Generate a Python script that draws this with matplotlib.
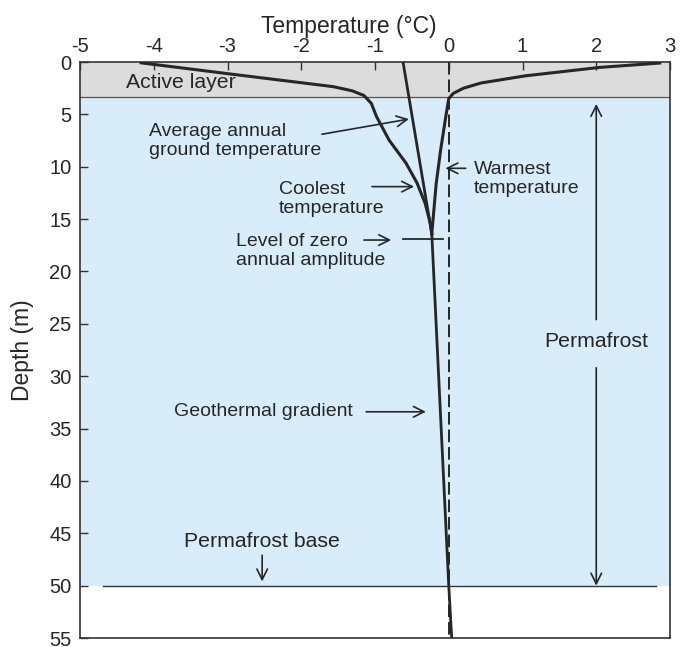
# Permafrost ground temperature profile (trumpet curve) redrawn with matplotlib
import numpy as np
import matplotlib.pyplot as plt

plt.rcParams['font.family'] = ['Liberation Sans', 'DejaVu Sans']

# axis ticks
temp_ticks = [-5, -4, -3, -2, -1, 0, 1, 2, 3]
temp_tick_labels = ['-5', '-4', '-3', '-2', '-1', '0', '1', '2', '3']
depth_ticks = [0, 5, 10, 15, 20, 25, 30, 35, 40, 45, 50, 55]

# coolest temperature envelope (deg C vs depth m)
coolest_temp = [-4.17, -2.90, -1.57, -1.31, -1.15, -1.05, -0.98, -0.81, -0.58, -0.43, -0.32, -0.25, -0.23]
coolest_depth = [0.08, 1.2, 2.35, 2.75, 3.2, 3.95, 5.2, 7.45, 9.65, 11.55, 13.5, 15.4, 16.4]

# warmest temperature envelope
warmest_temp = [2.86, 2.04, 1.04, 0.44, 0.20, 0.06, 0.0, -0.04, -0.11, -0.17, -0.21, -0.23]
warmest_depth = [0.1, 0.52, 1.32, 2.0, 2.5, 3.0, 3.5, 5.2, 8.4, 11.6, 14.8, 16.4]

# mean annual ground temperature, then geothermal gradient below
mean_temp = [-0.62, -0.23, 0.0, 0.04]
mean_depth = [0, 16.4, 50, 55]

active_layer_base = 3.3
zero_amplitude_depth = 16.9
permafrost_base = 50

ink = '#262626'
fig = plt.figure(figsize=(6.91, 6.47), dpi=100)
ax = fig.add_axes([80 / 691, 1 - 638 / 647, 590 / 691, 576 / 647])

# shaded layers
ax.axhspan(0, active_layer_base, color='#dcdcdc', lw=0, zorder=0)
ax.axhspan(active_layer_base, permafrost_base, color='#d8ecfa', lw=0, zorder=0)
ax.axhline(active_layer_base, color='#555555', lw=0.9, zorder=1)

# profiles
ax.plot([0, 0], [0, 55], color=ink, lw=1.4, ls=(0, (6.5, 2.5)), zorder=2)
ax.plot(coolest_temp, coolest_depth, color=ink, lw=2.2, solid_joinstyle='round', zorder=3)
ax.plot(warmest_temp, warmest_depth, color=ink, lw=2.2, solid_joinstyle='round', zorder=3)
ax.plot(mean_temp, mean_depth, color=ink, lw=2.0, zorder=3)
ax.plot([-0.62, -0.08], [zero_amplitude_depth, zero_amplitude_depth], color=ink, lw=1.3, zorder=3)
ax.plot([-4.69, 2.81], [permafrost_base, permafrost_base], color='#333333', lw=1.0, zorder=3)

arrow = dict(arrowstyle='->', lw=1.2, color=ink, mutation_scale=19, shrinkA=0, shrinkB=0)
fs = 14
fs_big = 15.3

def note(head, tail):
    ax.annotate('', xy=head, xytext=tail, arrowprops=arrow)

ax.text(-4.38, 1.95, 'Active layer', fontsize=fs_big, color=ink, va='center')

ax.text(-4.07, 7.55, 'Average annual\nground temperature', fontsize=fs, color=ink,
        va='center', linespacing=1.15)
note((-0.54, 5.45), (-1.72, 6.9))

ax.text(-2.30, 13.1, 'Coolest\ntemperature', fontsize=fs, color=ink, va='center', linespacing=1.15)
note((-0.47, 11.9), (-1.04, 11.9))

ax.text(-2.88, 18.05, 'Level of zero\nannual amplitude', fontsize=fs, color=ink,
        va='center', linespacing=1.15)
note((-0.78, 17.0), (-1.15, 17.0))

ax.text(0.34, 11.2, 'Warmest\ntemperature', fontsize=fs, color=ink, va='center', linespacing=1.15)
note((-0.045, 10.15), (0.23, 10.15))

ax.text(-1.30, 33.4, 'Geothermal gradient', fontsize=fs, color=ink, va='center', ha='right')
note((-0.31, 33.4), (-1.12, 33.4))

ax.text(2.0, 26.7, 'Permafrost', fontsize=fs_big, color=ink, va='center', ha='center')
note((2.0, 4.0), (2.0, 24.6))
note((2.0, 50.0), (2.0, 29.2))

ax.text(-2.53, 45.8, 'Permafrost base', fontsize=fs_big, color=ink, va='center', ha='center')
note((-2.53, 49.6), (-2.53, 47.1))

# axes
ax.set_xlim(-5, 3)
ax.set_ylim(55, 0)
ax.xaxis.tick_top()
ax.xaxis.set_label_position('top')
ax.set_xticks(temp_ticks)
ax.set_xticklabels(temp_tick_labels)
ax.set_yticks(depth_ticks)
ax.tick_params(direction='in', length=6, width=1.0, labelsize=14.5, colors='#333333', labelcolor=ink)
ax.tick_params(axis='x', pad=4)
ax.tick_params(axis='y', pad=6)
for s in ax.spines.values():
    s.set_color('#333333')
    s.set_linewidth(1.2)

ax.set_xlabel('Temperature (°C)', fontsize=16.5, color=ink)
ax.xaxis.set_label_coords(0.456, 1.05)
ax.set_ylabel('Depth (m)', fontsize=16.5, color=ink)
ax.yaxis.set_label_coords(-0.078, 0.5)

plt.savefig('out.png', dpi=100)
